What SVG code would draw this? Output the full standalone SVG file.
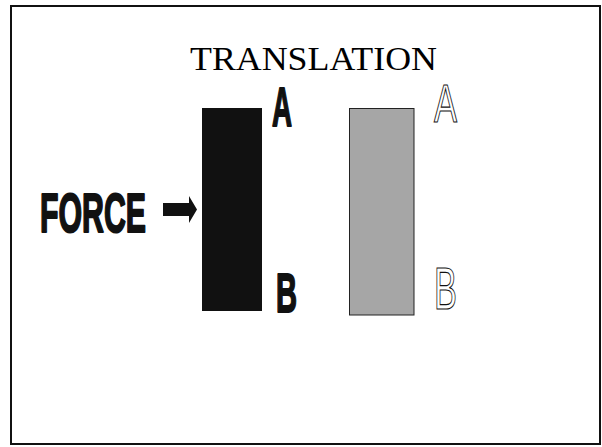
<svg xmlns="http://www.w3.org/2000/svg" width="602" height="447" viewBox="0 0 602 447">
<style>
.bold{font-family:"Liberation Sans Narrow","Liberation Sans",Arial,sans-serif;font-weight:bold;fill:#111;stroke:#111;stroke-width:2;stroke-linejoin:round}
.hollow{font-family:"Liberation Sans Narrow","Liberation Sans",Arial,sans-serif;fill:#fff;stroke:#111;stroke-width:1.2}
.title{font-family:"Liberation Serif","Times New Roman",serif;fill:#000}
</style>
<rect x="0" y="0" width="602" height="447" fill="#fff"/>
<rect id="frame" x="11" y="6" width="589" height="438" fill="none" stroke="#111" stroke-width="2"/>
<g id="title"><text class="title" x="190" y="70" font-size="34" textLength="247" lengthAdjust="spacingAndGlyphs">TRANSLATION</text></g>
<g id="force"><text class="bold" x="40" y="232" font-size="55" textLength="106" lengthAdjust="spacingAndGlyphs">FORCE</text></g>
<g id="connectors"><polygon points="163,203 189,203 189,196 197,209.5 189,223 189,216 163,216" fill="#111"/></g>
<g id="body-before">
<rect x="202" y="108" width="60" height="203" fill="#111"/>
<text class="bold" x="272" y="126" font-size="56" textLength="20" lengthAdjust="spacingAndGlyphs">A</text>
<text class="bold" x="276" y="312" font-size="56" textLength="21" lengthAdjust="spacingAndGlyphs">B</text>
</g>
<g id="body-after">
<rect x="349.5" y="108.5" width="64.5" height="206.5" fill="#a6a6a6" stroke="#222" stroke-width="1"/>
<text class="hollow" x="434" y="122" font-size="54" textLength="23" lengthAdjust="spacingAndGlyphs">A</text>
<text class="hollow" x="434" y="309" font-size="60" textLength="23" lengthAdjust="spacingAndGlyphs">B</text>
</g>
</svg>
